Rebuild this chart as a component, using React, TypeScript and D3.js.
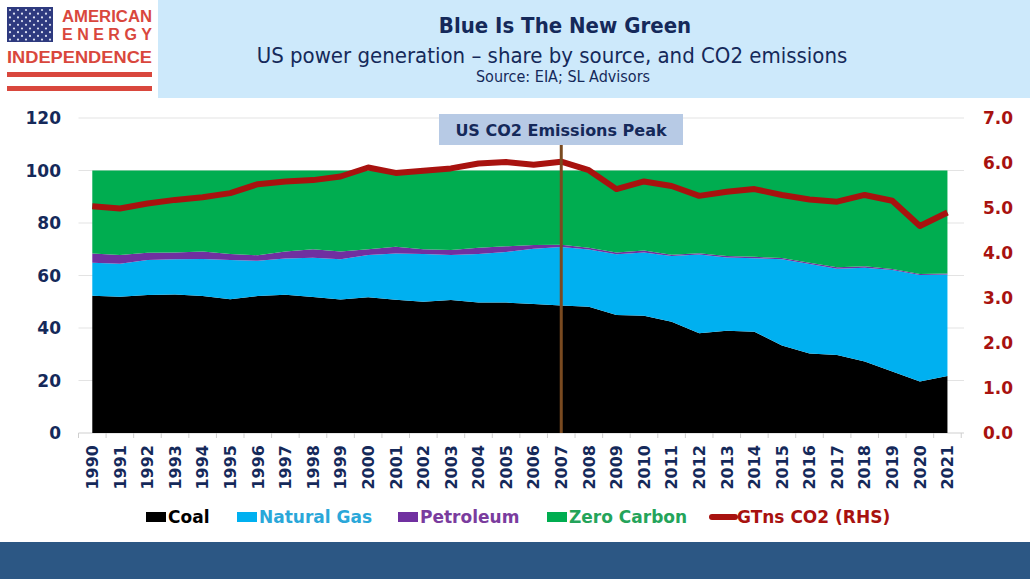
import React from "react";
import * as d3 from "d3";

// share of US power generation by source (%)
const years = [
  "1990", "1991", "1992", "1993", "1994", "1995", "1996", "1997", "1998", "1999",
  "2000", "2001", "2002", "2003", "2004", "2005", "2006", "2007", "2008", "2009",
  "2010", "2011", "2012", "2013", "2014", "2015", "2016", "2017", "2018", "2019",
  "2020", "2021",
];
const coal = [
  52.3, 51.9, 52.6, 52.8, 52.2, 51.0, 52.2, 52.7, 51.8, 50.9, 51.7, 50.8, 50.0, 50.7, 49.7, 49.7,
  49.1, 48.6, 48.1, 45.0, 44.7, 42.4, 38.0, 39.0, 38.6, 33.3, 30.3, 29.7, 27.2, 23.4, 19.6, 21.7,
];
const naturalGas = [
  12.6, 12.6, 13.3, 13.4, 14.1, 14.9, 13.4, 13.8, 15.0, 15.3, 16.1, 17.6, 18.2, 17.1, 18.5, 19.3,
  21.1, 22.3, 21.8, 23.1, 24.1, 25.0, 30.0, 27.9, 28.0, 32.9, 34.1, 32.9, 35.8, 38.7, 40.6, 38.7,
];
const petroleum = [
  3.5, 3.3, 2.8, 2.6, 2.8, 2.3, 2.1, 2.6, 3.2, 2.9, 2.2, 2.6, 1.8, 1.9, 2.4, 2.1,
  1.4, 0.8, 0.7, 0.7, 0.7, 0.5, 0.5, 0.5, 0.5, 0.5, 0.5, 0.5, 0.5, 0.4, 0.4, 0.4,
];
const zeroCarbon = [
  31.6, 32.2, 31.3, 31.2, 30.9, 31.8, 32.3, 30.9, 30.0, 30.9, 30.0, 29.0, 30.0, 30.3, 29.4, 28.9,
  28.4, 28.3, 29.4, 31.2, 30.5, 32.1, 31.5, 32.6, 32.9, 33.3, 35.1, 36.9, 36.5, 37.5, 39.4, 39.2,
];
// GT of CO2 (right axis)
const co2 = [
  5.04, 4.99, 5.10, 5.18, 5.24, 5.33, 5.53, 5.59, 5.62, 5.70, 5.90, 5.78, 5.83, 5.88, 5.99, 6.02,
  5.96, 6.03, 5.84, 5.42, 5.59, 5.49, 5.27, 5.36, 5.42, 5.29, 5.19, 5.14, 5.29, 5.16, 4.60, 4.90,
];
const leftTicks = [0, 20, 40, 60, 80, 100, 120];
const rightTicks = [0, 1, 2, 3, 4, 5, 6, 7];
const peakYear = "2007";

const series = [
  { key: "coal", label: "Coal", color: "#000000", text: "#000000", values: coal },
  { key: "gas", label: "Natural Gas", color: "#00b0f0", text: "#2aa7d9", values: naturalGas },
  { key: "pet", label: "Petroleum", color: "#7030a0", text: "#7a3c9e", values: petroleum },
  { key: "zero", label: "Zero Carbon", color: "#00ad50", text: "#24a45a", values: zeroCarbon },
];

const NAVY = "#15295a";
const RED = "#a8120f";
const font = "'DejaVu Sans', Verdana, sans-serif";
const condensed = "'DejaVu Sans Condensed', 'DejaVu Sans', sans-serif";

const App: React.FC = () => {
  const width = 1030;
  const height = 579;
  const plot = { left: 78.5, right: 964, top: 118, bottom: 433 };

  // categories sit on the points, ticks between them
  const step = (plot.right - plot.left) / (years.length + 0.1);
  const x = d3
    .scalePoint<string>()
    .domain(years)
    .range([plot.left + step / 2, plot.left + step / 2 + step * (years.length - 1)]);
  const y = d3.scaleLinear().domain([0, 120]).range([plot.bottom, plot.top]);
  const y2 = d3.scaleLinear().domain([0, 7]).range([plot.bottom, plot.top]);

  const table = years.map((yr, i) => {
    const row: any = { year: yr };
    series.forEach((s) => (row[s.key] = s.values[i]));
    return row;
  });
  const stacked = d3.stack().keys(series.map((s) => s.key))(table);
  const area = d3
    .area<any>()
    .x((d) => x(d.data.year) as number)
    .y0((d) => y(d[0]))
    .y1((d) => y(d[1]));
  const line = d3
    .line<number>()
    .x((_, i) => x(years[i]) as number)
    .y((d) => y2(d));

  const tickXs = d3.range(years.length + 1).map((i) => (x(years[0]) as number) - step / 2 + i * step);
  const peakX = x(peakYear) as number;

  // flag stars
  const stars: { cx: number; cy: number }[] = [];
  for (let r = 0; r < 9; r++) {
    const n = r % 2 === 0 ? 6 : 5;
    for (let c = 0; c < n; c++) {
      stars.push({ cx: 10 + c * 8 + (r % 2 === 0 ? 0 : 4), cy: 10 + r * 3.7 });
    }
  }

  const legend = [
    { x: 146, w: 190, ...series[0], kind: "box" },
    { x: 237, ...series[1], kind: "box" },
    { x: 398, ...series[2], kind: "box" },
    { x: 547, ...series[3], kind: "box" },
    { x: 710, label: "GTns CO2 (RHS)", color: RED, text: RED, kind: "line" },
  ];

  return (
    <svg
      width={width}
      height={height}
      style={{ position: "absolute", left: 0, top: 0, background: "#fff" }}
    >
      {/* logo */}
      <rect x={7} y={7} width={46} height={35} fill="#2e3a7f" />
      {stars.map((s, i) => (
        <circle key={i} cx={s.cx} cy={s.cy} r={1.1} fill="#dfe3f3" />
      ))}
      <text x={62} y={22} fontFamily="'Liberation Sans', Arial, sans-serif" fontWeight="bold"
        fontSize={16} fill="#d9473d" textLength={90} lengthAdjust="spacingAndGlyphs">AMERICAN</text>
      <text x={62} y={40} fontFamily="'Liberation Sans', Arial, sans-serif" fontWeight="bold"
        fontSize={16} fill="#d9473d" textLength={90} lengthAdjust="spacing">ENERGY</text>
      <text x={7} y={63} fontFamily="'Liberation Sans', Arial, sans-serif" fontWeight="bold"
        fontSize={17} fill="#d9473d" textLength={145} lengthAdjust="spacingAndGlyphs">INDEPENDENCE</text>
      <rect x={7} y={72} width={145} height={5} fill="#d9473d" />
      <rect x={7} y={86} width={145} height={5} fill="#d9473d" />

      {/* title band */}
      <rect x={158} y={0} width={width - 158} height={98} fill="#cde9fb" />
      <text x={565} y={33} textAnchor="middle" fontFamily={condensed} fontWeight="bold"
        fontSize={22} fill={NAVY}>Blue Is The New Green</text>
      <text x={552} y={63} textAnchor="middle" fontFamily={condensed}
        fontSize={22} fill={NAVY}>US power generation – share by source, and CO2 emissions</text>
      <text x={563} y={82} textAnchor="middle" fontFamily={condensed}
        fontSize={16} fill={NAVY}>Source: EIA; SL Advisors</text>

      {/* gridlines */}
      {leftTicks.map((t) => (
        <line key={t} x1={plot.left} x2={plot.right} y1={y(t)} y2={y(t)}
          stroke={t === 0 ? "#cfcfcf" : "#e3e3e3"} strokeWidth={1} />
      ))}
      {tickXs.map((tx, i) => (
        <line key={i} x1={tx} x2={tx} y1={plot.bottom} y2={plot.bottom + 5} stroke="#cfcfcf" />
      ))}

      {/* stacked areas */}
      {stacked.map((layer, i) => (
        <path key={layer.key} d={area(layer as any) || ""} fill={series[i].color} />
      ))}

      {/* emissions line */}
      <path d={line(co2) || ""} fill="none" stroke={RED} strokeWidth={6} strokeLinejoin="round" />

      {/* peak marker */}
      <line x1={peakX} x2={peakX} y1={145} y2={plot.bottom} stroke="#7a4a20" strokeWidth={3} />
      <rect x={439} y={114} width={244} height={31} fill="#b7cae5" />
      <text x={561} y={136} textAnchor="middle" fontFamily={font} fontWeight="bold"
        fontSize={16} fill={NAVY}>US CO2 Emissions Peak</text>

      {/* left axis */}
      {leftTicks.map((t) => (
        <text key={t} x={61} y={y(t)} dy="0.36em" textAnchor="end" fontFamily={font}
          fontWeight="bold" fontSize={17} fill={NAVY}>{t}</text>
      ))}
      {/* right axis */}
      {rightTicks.map((t) => (
        <text key={t} x={983} y={y2(t)} dy="0.36em" textAnchor="start" fontFamily={font}
          fontWeight="bold" fontSize={17} fill={RED}>{d3.format(".1f")(t)}</text>
      ))}
      {/* year labels */}
      {years.map((yr) => (
        <text key={yr} transform={`translate(${x(yr)},${445}) rotate(-90)`} dy="0.36em"
          textAnchor="end" fontFamily={font} fontWeight="bold" fontSize={16} fill={NAVY}>{yr}</text>
      ))}

      {/* legend */}
      {legend.map((l) => (
        <g key={l.label} transform={`translate(${l.x},517)`}>
          {l.kind === "box" ? (
            <rect x={0} y={-5} width={20} height={10} fill={l.color} />
          ) : (
            <line x1={2} x2={25} y1={0} y2={0} stroke={l.color} strokeWidth={6} strokeLinecap="round" />
          )}
          <text x={l.kind === "box" ? 22 : 27} y={0} dy="0.36em" fontFamily={font} fontWeight="bold"
            fontSize={17} fill={l.text}>{l.label}</text>
        </g>
      ))}

      {/* bottom band */}
      <rect x={0} y={542} width={width} height={height - 542} fill="#2c5784" />
    </svg>
  );
};

export default App;
